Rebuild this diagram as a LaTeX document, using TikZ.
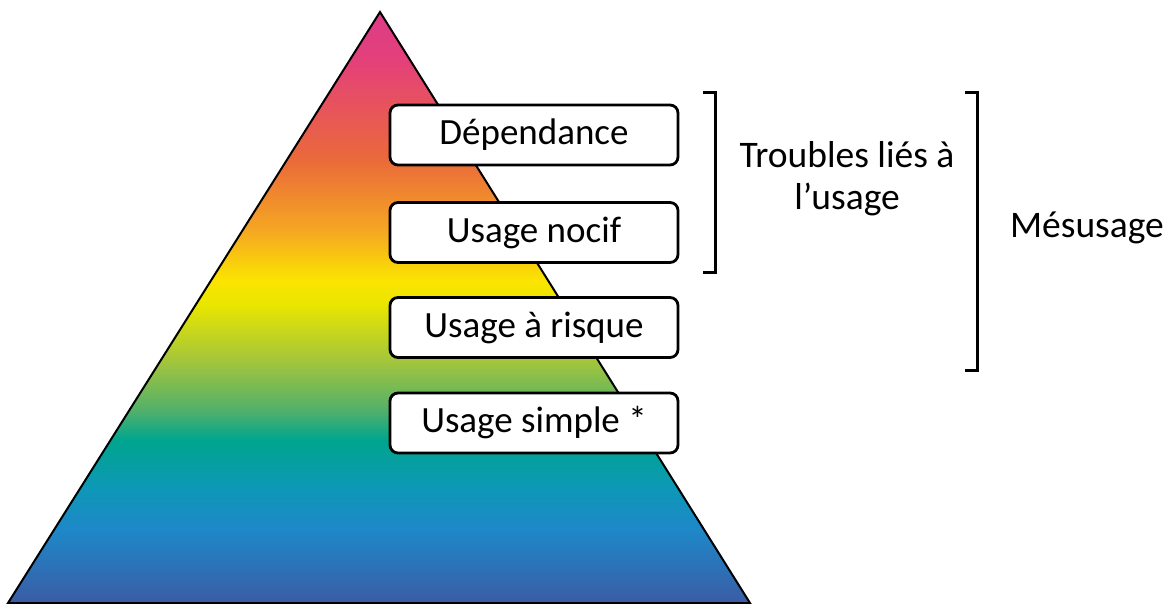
\documentclass[tikz,border=0pt]{standalone}
\usepackage{fontspec}
\setmainfont{Carlito}
\usetikzlibrary{shadings}
\definecolor{cA}{HTML}{3A5CA5}
\definecolor{cB}{HTML}{1E88C8}
\definecolor{cC}{HTML}{0E97B8}
\definecolor{cD}{HTML}{00A58E}
\definecolor{cE}{HTML}{52B06A}
\definecolor{cF}{HTML}{A5C63A}
\definecolor{cG}{HTML}{E8E600}
\definecolor{cH}{HTML}{FBE400}
\definecolor{cI}{HTML}{F5A623}
\definecolor{cJ}{HTML}{EA6A3A}
\definecolor{cK}{HTML}{E4407A}
\definecolor{cL}{HTML}{DD3C88}
\pgfdeclareverticalshading{pyr}{100bp}{color(0bp)=(cA); color(25bp)=(cA); color(31.2bp)=(cB); color(34.6bp)=(cC); color(38.8bp)=(cD); color(41.3bp)=(cE); color(45.6bp)=(cF); color(50.2bp)=(cG); color(52.3bp)=(cH); color(56.6bp)=(cI); color(62.5bp)=(cJ); color(70.9bp)=(cK); color(75bp)=(cL); color(100bp)=(cL)}
\begin{document}
\begin{tikzpicture}[x=1pt,y=-1pt,
  level/.style={draw=black,line width=2.8pt,rounded corners=8pt,fill=white,minimum width=288pt,minimum height=60pt,inner sep=0pt,font=\fontsize{37}{40}\selectfont},
  brk/.style={draw=black,line width=3pt},
  lbl/.style={font=\fontsize{37.5}{42}\selectfont,align=center,inner sep=0pt}]
\useasboundingbox (0,0) rectangle (1173,604);
\coordinate (apex) at (380,12);
\coordinate (bl) at (8,603);
\coordinate (br) at (750,603);
\draw[line width=2pt,shading=pyr,line join=miter] (apex) -- (br) -- (bl) -- cycle;
\node[level] (dep) at (534,135) {Dépendance};
\node[level] (noc) at (534,232.5) {Usage nocif};
\node[level] (ris) at (534,327.5) {Usage à risque};
\node[level] (sim) at (534,423) {Usage simple *};
\coordinate (b1a) at (703,93);
\coordinate (b1b) at (715,93);
\coordinate (b1c) at (715,273);
\coordinate (b1d) at (703,273);
\draw[brk] (b1a) -- (b1b) -- (b1c) -- (b1d);
\coordinate (b2a) at (965,93);
\coordinate (b2b) at (977,93);
\coordinate (b2c) at (977,370);
\coordinate (b2d) at (965,370);
\draw[brk] (b2a) -- (b2b) -- (b2c) -- (b2d);
\node[lbl] (tla) at (847,179) {Troubles liés à\\l’usage};
\node[lbl] (mes) at (1087,228) {Mésusage};
\end{tikzpicture}
\end{document}
